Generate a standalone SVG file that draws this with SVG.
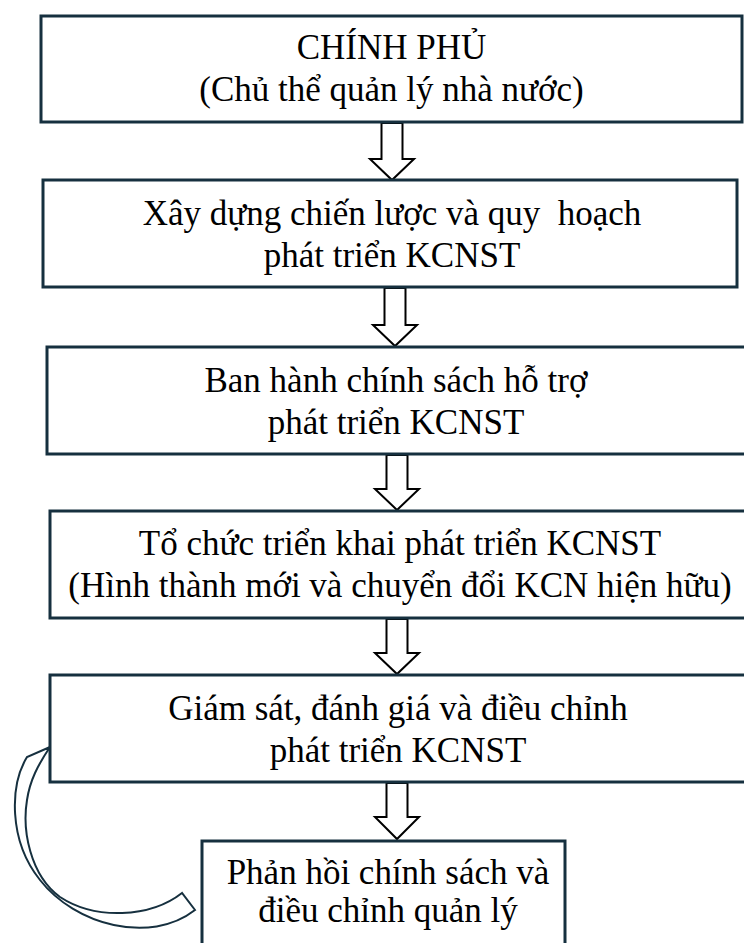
<svg xmlns="http://www.w3.org/2000/svg" width="744" height="943" viewBox="0 0 744 943">
  <defs>
    <style>
      .box { fill: #ffffff; stroke: #16303f; stroke-width: 3; }
      .lbl { font-family: "Liberation Serif", "Times New Roman", serif; font-size: 35px; fill: #000000; text-anchor: middle; }
      .step { fill: #ffffff; stroke: #000000; stroke-width: 2; stroke-linejoin: miter; }
      .loop { fill: #ffffff; stroke: #16303f; stroke-width: 2; stroke-linejoin: miter; }
    </style>
  </defs>
  <rect width="744" height="943" fill="#ffffff"/>

  <!-- connectors: block arrows between steps and the feedback loop -->
  <g id="connectors">
    <path class="step" d="M381.5,123 H402.5 V159 H414 L392,180 L370,159 H381.5 Z"/>
    <path class="step" d="M384.5,288 H405.5 V325 H417 L395,346 L373,325 H384.5 Z"/>
    <path class="step" d="M386.5,455 H407.5 V489 H419 L397,510 L375,489 H386.5 Z"/>
    <path class="step" d="M386.5,619 H407.5 V653 H419 L397,674 L375,653 H386.5 Z"/>
    <path class="step" d="M386.5,783 H407.5 V817 H419 L397,839 L375,817 H386.5 Z"/>
    <path class="loop" d="M50,747 L27,757 C10,785 8,840 40,880 C75,925 150,945 195,910 L182,893 C150,918 95,920 60,897 C30,875 22,830 27,800 C30,780 38,765 50,747 Z"/>
  </g>

  <g id="node-chinh-phu">
    <rect class="box" x="41" y="16" width="701" height="106"/>
    <text class="lbl" x="391.5" y="59">CHÍNH PHỦ</text>
    <text class="lbl" x="391.5" y="101">(Chủ thể quản lý nhà nước)</text>
  </g>

  <g id="node-chien-luoc">
    <rect class="box" x="43" y="180" width="694" height="107"/>
    <text class="lbl" x="392" y="225" xml:space="preserve">Xây dựng chiến lược và quy  hoạch</text>
    <text class="lbl" x="392" y="267">phát triển KCNST</text>
  </g>

  <g id="node-chinh-sach">
    <rect class="box" x="47" y="347" width="699" height="107"/>
    <text class="lbl" x="396" y="392">Ban hành chính sách hỗ trợ</text>
    <text class="lbl" x="396" y="434">phát triển KCNST</text>
  </g>

  <g id="node-trien-khai">
    <rect class="box" x="50" y="511" width="696" height="107"/>
    <text class="lbl" x="400" y="555">Tổ chức triển khai phát triển KCNST</text>
    <text class="lbl" x="400" y="597">(Hình thành mới và chuyển đổi KCN hiện hữu)</text>
  </g>

  <g id="node-giam-sat">
    <rect class="box" x="50" y="675" width="696" height="107"/>
    <text class="lbl" x="398" y="720">Giám sát, đánh giá và điều chỉnh</text>
    <text class="lbl" x="398" y="762">phát triển KCNST</text>
  </g>

  <g id="node-phan-hoi">
    <rect class="box" x="202" y="841" width="363" height="110"/>
    <text class="lbl" x="388" y="884">Phản hồi chính sách và</text>
    <text class="lbl" x="388" y="922">điều chỉnh quản lý</text>
  </g>
</svg>
